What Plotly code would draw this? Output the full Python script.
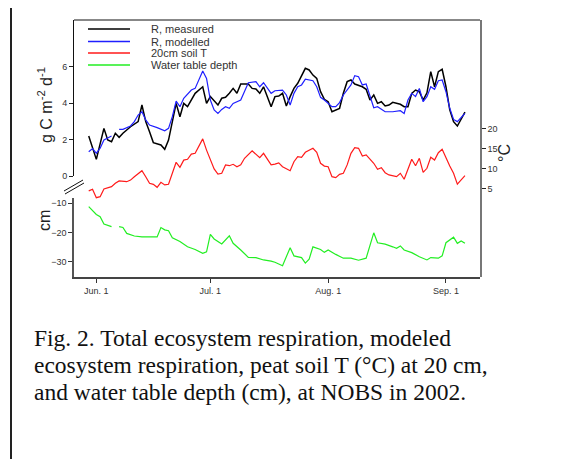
import plotly.graph_objects as go

YEAR = "2002-"

# R, measured (g C m-2 d-1)
meas_dates = ["05-30","06-01","06-03","06-04","06-05","06-06","06-07","06-08","06-10","06-11",
              "06-12","06-13","06-14","06-15","06-16","06-18","06-19","06-20","06-21","06-22",
              "06-23","06-24","06-25","06-26","06-27","06-29","06-30","07-01","07-03","07-04",
              "07-05","07-06","07-07","07-08","07-09","07-11","07-12","07-13","07-14","07-15",
              "07-16","07-17","07-18","07-19","07-20","07-21","07-22","07-23","07-24","07-25",
              "07-26","07-27","07-28","07-29","07-30","07-31","08-01","08-02","08-03","08-04",
              "08-05","08-06","08-07","08-08","08-10","08-11","08-12","08-13","08-14","08-15",
              "08-16","08-17","08-18","08-20","08-21","08-22","08-23","08-24","08-25","08-26",
              "08-27","08-28","08-29","08-30","08-31","09-01","09-02","09-03","09-04","09-05",
              "09-06"]
meas_vals = [2.19,0.91,2.61,1.97,1.88,2.34,2.12,2.34,2.70,2.83,
             2.98,3.89,2.98,2.43,1.83,1.70,1.46,1.97,3.07,3.98,
             3.25,3.98,3.80,4.16,4.53,4.89,3.98,4.35,3.89,4.26,
             4.31,4.53,4.80,4.53,5.04,5.04,4.80,4.77,4.53,4.89,
             4.35,3.80,4.35,4.38,4.53,3.84,4.35,4.80,5.08,5.53,
             5.90,5.81,5.53,5.35,4.62,4.20,4.07,3.52,3.62,3.70,
             4.53,5.17,5.26,5.04,4.89,4.75,4.16,4.44,3.98,4.07,
             3.84,3.89,4.04,3.93,3.80,3.80,4.53,4.71,4.62,4.16,
             4.56,5.72,4.89,5.72,5.85,4.89,3.62,2.98,2.74,3.16,
             3.50]

# R, modelled (g C m-2 d-1)
mod_dates = ["05-30","05-31","06-01","06-02","06-03","06-04","06-05","06-06","06-07","06-08",
             "06-10","06-11","06-12","06-13","06-14","06-15","06-17","06-18","06-19","06-20",
             "06-21","06-22","06-23","06-24","06-26","06-27","06-29","06-30","07-01","07-02",
             "07-03","07-04","07-05","07-06","07-07","07-09","07-10","07-11","07-13","07-14",
             "07-15","07-16","07-17","07-18","07-20","07-21","07-22","07-23","07-24","07-25",
             "07-26","07-28","07-29","07-30","07-31","08-02","08-03","08-04","08-05","08-07",
             "08-08","08-09","08-10","08-11","08-12","08-13","08-14","08-15","08-16","08-18",
             "08-20","08-21","08-22","08-23","08-24","08-25","08-26","08-27","08-28","08-29",
             "08-30","08-31","09-01","09-02","09-03","09-04","09-06"]
mod_vals = [1.33,1.50,1.25,1.52,1.97,2.10,2.19,None,2.56,2.56,
            2.74,2.98,3.34,3.52,3.07,2.79,2.65,2.56,2.48,2.61,
            3.25,4.10,3.80,4.26,4.71,4.80,5.75,5.35,4.16,3.62,
            3.43,3.65,3.80,3.71,3.98,4.16,4.62,5.11,5.17,4.89,
            5.11,4.80,4.53,4.67,4.71,4.44,3.89,4.53,4.89,4.99,
            5.30,5.22,4.89,4.31,4.16,3.80,3.80,4.02,4.44,4.99,
            5.50,5.44,4.99,5.04,4.35,3.74,3.80,3.65,3.52,3.52,
            3.58,3.43,4.16,4.53,4.35,4.80,4.07,4.35,4.89,4.75,
            5.22,5.26,4.62,3.71,3.10,2.98,3.43]

# 20cm soil T (deg C)
temp_dates = ["05-30","05-31","06-01","06-02","06-03","06-05","06-06","06-07","06-09","06-10",
              "06-11","06-13","06-14","06-15","06-16","06-17","06-18","06-19","06-20","06-21",
              "06-22","06-23","06-24","06-25","06-26","06-27","06-29","06-30","07-02","07-03",
              "07-04","07-05","07-06","07-07","07-08","07-09","07-10","07-12","07-14","07-15",
              "07-17","07-18","07-19","07-20","07-22","07-23","07-24","07-25","07-26","07-28",
              "07-29","07-30","07-31","08-01","08-02","08-03","08-04","08-05","08-06","08-07",
              "08-08","08-09","08-10","08-11","08-12","08-13","08-14","08-15","08-16","08-17",
              "08-19","08-20","08-21","08-22","08-23","08-24","08-25","08-26","08-27","08-28",
              "08-29","08-30","08-31","09-02","09-03","09-04","09-06"]
temp_vals = [4.4,4.8,2.7,2.95,4.9,5.45,6.3,6.9,6.7,7.1,
             7.95,9.45,7.95,6.3,6.05,5.3,6.55,5.9,6.05,8.8,
             11.55,10.3,12.1,12.3,13.6,13.8,17.4,14.6,9.9,8.6,
             8.8,10.9,10.7,11.05,10.45,10.9,12.55,14.4,12.7,13.8,
             10.9,11.1,11.4,10.45,9.45,11.7,12.95,12.8,14.05,15.05,
             14.05,11.3,10.6,10.45,7.95,7.7,8.55,8.8,10.9,13.8,
             15.2,15.05,13.1,13.4,12.3,11.3,9.8,10.2,8.95,8.4,
             7.95,8.8,7.3,9.6,12.3,10.7,12.55,9.05,10.05,12.8,
             12.1,13.95,14.8,10.6,8.8,6.1,8.2]

# Water table depth (cm)
wt_dates = ["05-30","06-01","06-02","06-03","06-05","06-06","06-07","06-08","06-09","06-11",
            "06-13","06-17","06-18","06-19","06-20","06-21","06-23","06-25","06-27","06-29",
            "06-30","07-01","07-02","07-04","07-06","07-07","07-09","07-11","07-13","07-15",
            "07-17","07-18","07-20","07-22","07-23","07-25","07-26","07-27","07-28","07-30",
            "07-31","08-01","08-03","08-05","08-07","08-09","08-11","08-13","08-14","08-16",
            "08-18","08-19","08-20","08-21","08-23","08-25","08-27","08-28","08-30","08-31",
            "09-01","09-03","09-04","09-05","09-06"]
wt_vals = [-11.15,-13.8,-14.6,-17.1,-18.0,None,-18.0,-18.3,-20.3,-21.2,
           -21.5,-21.5,-18.3,-19.1,-19.4,-21.8,-23.1,-24.9,-25.8,-27.1,
           -26.6,-20.6,-22.2,-23.9,-21.1,-23.7,-26.0,-28.5,-28.6,-29.4,
           -29.8,-30.2,-31.4,-25.2,-28.0,-28.6,-30.5,-29.1,-24.9,-25.8,
           -26.8,-26.0,-27.5,-28.8,-28.8,-29.5,-28.8,-20.1,-23.5,-24.0,
           -24.9,-25.4,-24.6,-26.0,-26.9,-28.3,-29.4,-28.6,-28.8,-28.0,
           -23.5,-21.6,-23.7,-22.9,-23.7]

month_ticks = ["2002-06-01", "2002-07-01", "2002-08-01", "2002-09-01"]
month_labels = ["Jun. 1", "Jul. 1", "Aug. 1", "Sep. 1"]
legend_names = ["R, measured", "R, modelled", "20cm soil T", "Water table depth"]
colors = ["#000000", "#1f1fff", "#ff1a1a", "#22ee22"]

def dts(lst):
    return [YEAR + d for d in lst]

fig = go.Figure()
fig.add_trace(go.Scatter(x=dts(meas_dates), y=meas_vals, mode="lines", yaxis="y",
                         line=dict(color=colors[0], width=1.5), name=legend_names[0]))
fig.add_trace(go.Scatter(x=dts(mod_dates), y=mod_vals, mode="lines", yaxis="y",
                         line=dict(color=colors[1], width=1.2), name=legend_names[1]))
fig.add_trace(go.Scatter(x=dts(temp_dates), y=temp_vals, mode="lines", yaxis="y3",
                         line=dict(color=colors[2], width=1.2), name=legend_names[2]))
fig.add_trace(go.Scatter(x=dts(wt_dates), y=wt_vals, mode="lines", yaxis="y2",
                         line=dict(color=colors[3], width=1.2), name=legend_names[3]))

W, H = 582, 459
OFF = 8  # page body margin
L = 74 - OFF
T = 20 - OFF
pw, ph = 406, 257
R = W - L - pw
B = H - T - ph

def px(xp):
    return (xp - OFF - L) / pw

def py(yp):
    return (T + ph - (yp - OFF)) / ph

tickfont = dict(family="Arial, Liberation Sans, sans-serif", size=9, color="#333")

fig.update_layout(
    width=W, height=H, autosize=False,
    margin=dict(l=L, r=R, t=T, b=B, pad=0),
    paper_bgcolor="white", plot_bgcolor="rgba(0,0,0,0)",
    showlegend=False,
    xaxis=dict(type="date", range=["2002-05-26 03:00", "2002-09-09 23:00"],
               tickvals=month_ticks, ticktext=month_labels, ticks="outside", ticklen=4,
               tickcolor="#333", showline=True, linecolor="#444", linewidth=1.5,
               showgrid=False, zeroline=False, tickfont=tickfont, anchor="y2"),
    yaxis=dict(domain=[py(176), 1], range=[0, 156 / 18.25], tickvals=[0, 2, 4, 6],
               ticks="outside", ticklen=4, tickcolor="#222", showline=True,
               linecolor="#111", linewidth=1, showgrid=False, zeroline=False,
               tickfont=tickfont, anchor="x"),
    yaxis2=dict(domain=[0, py(198)], range=[-35.24, -8.18], tickvals=[-10, -20, -30],
                ticks="outside", ticklen=4, tickcolor="#333", showline=True,
                linecolor="#555", linewidth=1.5, showgrid=False, zeroline=False,
                tickfont=tickfont, anchor="x"),
    yaxis3=dict(domain=[0, 1], range=[5 + (188.5 - 277) / 4, 5 + (188.5 - 20) / 4],
                tickvals=[5, 10, 15, 20], side="right", ticks="outside", ticklen=4,
                tickcolor="#222", showline=True, linecolor="#777", linewidth=1.5,
                showgrid=False, zeroline=False, tickfont=tickfont, anchor="x"),
)

shapes = []
# outer frame (top and left)
shapes.append(dict(type="line", xref="paper", yref="paper", x0=px(11), x1=px(600),
                   y0=py(5), y1=py(5), line=dict(color="#222", width=2)))
shapes.append(dict(type="line", xref="paper", yref="paper", x0=px(11), x1=px(11),
                   y0=py(5), y1=py(480), line=dict(color="#222", width=2)))
# top of plot frame
shapes.append(dict(type="line", xref="paper", yref="paper", x0=0, x1=1, y0=1, y1=1,
                   line=dict(color="#111", width=1)))
# axis break marks
shapes.append(dict(type="line", xref="paper", yref="paper", x0=px(64), y0=py(191),
                   x1=px(83), y1=py(180), line=dict(color="#111", width=1)))
shapes.append(dict(type="line", xref="paper", yref="paper", x0=px(65), y0=py(194),
                   x1=px(84), y1=py(183), line=dict(color="#111", width=1)))
# legend samples
leg_rows = [29, 41.5, 53, 65]
for c, yy in zip(colors, leg_rows):
    shapes.append(dict(type="line", xref="paper", yref="paper", x0=px(88), x1=px(130),
                       y0=py(yy), y1=py(yy), line=dict(color=c, width=1.5)))
fig.update_layout(shapes=shapes)

ann = []
for name, yy in zip(legend_names, leg_rows):
    ann.append(dict(xref="paper", yref="paper", x=px(149), y=py(yy), xanchor="left",
                    yanchor="middle", text=name, showarrow=False,
                    font=dict(family="Arial, Liberation Sans, sans-serif", size=11, color="#333")))
ann.append(dict(xref="paper", yref="paper", x=px(45), y=py(105), text="g C m<sup>-2</sup> d<sup>-1</sup>",
                textangle=-90, showarrow=False, xanchor="center", yanchor="middle",
                font=dict(family="Arial, Liberation Sans, sans-serif", size=16, color="#222")))
ann.append(dict(xref="paper", yref="paper", x=px(44), y=py(221), text="cm",
                textangle=-90, showarrow=False, xanchor="center", yanchor="middle",
                font=dict(family="Arial, Liberation Sans, sans-serif", size=16, color="#222")))
ann.append(dict(xref="paper", yref="paper", x=px(505), y=py(153), text="°C",
                textangle=-90, showarrow=False, xanchor="center", yanchor="middle",
                font=dict(family="Arial, Liberation Sans, sans-serif", size=16, color="#222")))
caption = ["Fig. 2. Total ecosystem respiration, modeled",
           "ecosystem respiration, peat soil T (°C) at 20 cm,",
           "and water table depth (cm), at NOBS in 2002."]
for line, yy in zip(caption, [338, 365, 392]):
    ann.append(dict(xref="paper", yref="paper", x=px(32), y=py(yy), xanchor="left",
                    yanchor="middle", text=line, showarrow=False,
                    font=dict(family="Liberation Serif, Times New Roman, serif", size=23.5, color="#111")))
fig.update_layout(annotations=ann)

fig.write_html("out.html")
